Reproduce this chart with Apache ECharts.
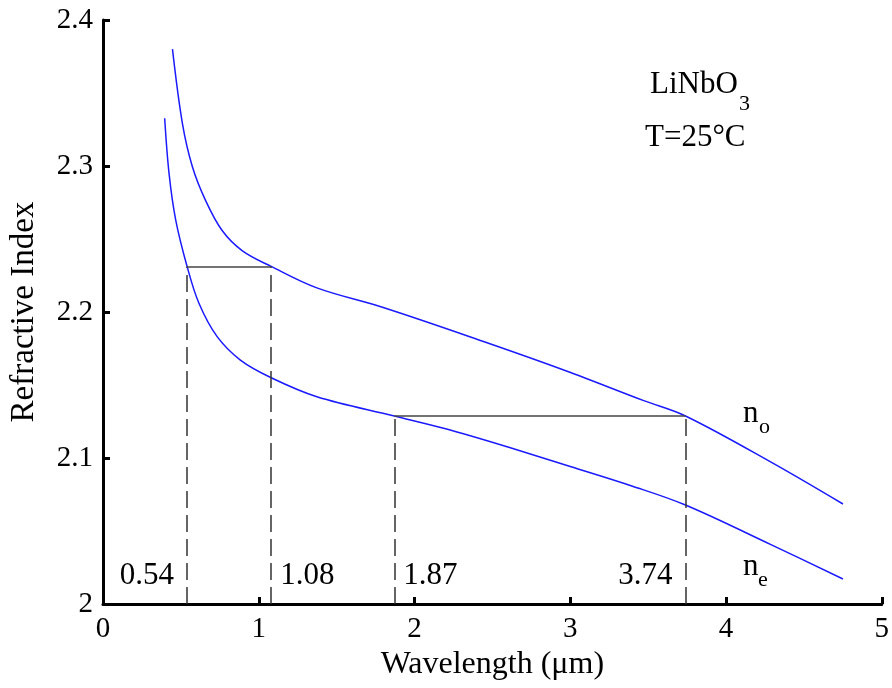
<!DOCTYPE html>
<html>
<head>
<meta charset="utf-8">
<script src="https://cdn.jsdelivr.net/npm/echarts@6/dist/echarts.min.js"></script>
<style>
  html, body { margin: 0; padding: 0; background: #fff; }
  #main { width: 892px; height: 688px; }
</style>
</head>
<body>
<div id="main"></div>
<script>
// 读图得到的数据 (wavelength um, index)
const noWave = [0.446, 0.51, 0.574, 0.659, 0.765, 0.893, 1.08, 1.373, 1.799, 2.438, 2.971, 3.472, 3.74, 4.292, 4.751]
const noIndex = [2.380, 2.329, 2.2995, 2.2763, 2.2558, 2.2421, 2.2312, 2.2165, 2.2031, 2.1800, 2.1598, 2.1393, 2.1288, 2.0970, 2.0685]
const neWave = [0.396, 0.424, 0.467, 0.54, 0.616, 0.733, 0.882, 1.08, 1.373, 1.87, 2.2, 2.6, 3.0, 3.4, 3.74, 4.292, 4.751]
const neIndex = [2.3327, 2.295, 2.263, 2.2312, 2.206, 2.1831, 2.1671, 2.155, 2.142, 2.1288, 2.1200, 2.1075, 2.0942, 2.0807, 2.0678, 2.0405, 2.0171]
// 相位匹配标记
const markWave = [0.54, 1.08, 1.87, 3.74]
const markIndex = [2.2312, 2.2312, 2.1288, 2.1288]
const xTicks = [0, 1, 2, 3, 4, 5]
const yTicks = [2, 2.1, 2.2, 2.3, 2.4]

const serif = '"Liberation Serif", "DejaVu Serif", serif'
const chart = echarts.init(document.getElementById('main'))

function pairs(xs, ys) {
  return xs.map((x, i) => [x, ys[i]])
}

// 竖直虚线 + 水平实线
const dashLines = markWave.map((x, i) => [{ coord: [x, yTicks[0]] }, { coord: [x, markIndex[i]] }])
const solidLines = [
  [{ coord: [markWave[0], markIndex[0]] }, { coord: [markWave[1], markIndex[1]] }],
  [{ coord: [markWave[2], markIndex[2]] }, { coord: [markWave[3], markIndex[3]] }]
]

// 数值标签 0.54/3.74 在左, 1.08/1.87 在右
const labelSide = ['left', 'right', 'right', 'left']
const labelData = markWave.map((x, i) => ({
  value: [x, 2.019],
  label: {
    show: true,
    formatter: x.toFixed(2),
    position: labelSide[i],
    distance: labelSide[i] === 'left' ? 13 : 9
  }
}))

function txt(left, top, text, size) {
  return { type: 'text', left: left, top: top, style: { text: text, font: size + 'px ' + serif, fill: '#000' } }
}

const option = {
  animation: false,
  backgroundColor: '#fff',
  grid: { left: 102, right: 8, top: 20, bottom: 84 },
  xAxis: {
    type: 'value',
    min: xTicks[0],
    max: xTicks[xTicks.length - 1],
    interval: 1,
    name: 'Wavelength (\u03bcm)',
    nameLocation: 'middle',
    nameGap: 43,
    nameTextStyle: { fontFamily: serif, fontSize: 32, color: '#000' },
    axisLine: { lineStyle: { color: '#000', width: 3 } },
    axisTick: { inside: true, length: 7, lineStyle: { color: '#000', width: 3 } },
    axisLabel: { fontFamily: serif, fontSize: 29, color: '#000', margin: 11 },
    splitLine: { show: false }
  },
  yAxis: {
    type: 'value',
    min: yTicks[0],
    max: yTicks[yTicks.length - 1],
    interval: 0.1,
    name: 'Refractive Index',
    nameLocation: 'middle',
    nameGap: 62,
    nameTextStyle: { fontFamily: serif, fontSize: 33, color: '#000' },
    axisLine: { show: true, lineStyle: { color: '#000', width: 3 } },
    axisTick: { show: true, inside: true, length: 7, lineStyle: { color: '#000', width: 3 } },
    axisLabel: {
      fontFamily: serif, fontSize: 29, color: '#000', margin: 10,
      formatter: v => (v === 2 ? '2' : v.toFixed(1))
    },
    splitLine: { show: false }
  },
  series: [
    {
      name: 'no',
      type: 'line',
      data: pairs(noWave, noIndex),
      smooth: 0.35,
      showSymbol: false,
      lineStyle: { color: '#1a1aff', width: 1.5 },
      z: 3
    },
    {
      name: 'ne',
      type: 'line',
      data: pairs(neWave, neIndex),
      smooth: 0.35,
      showSymbol: false,
      lineStyle: { color: '#1a1aff', width: 1.5 },
      z: 3
    },
    {
      name: 'marks',
      type: 'scatter',
      symbolSize: 0,
      itemStyle: { opacity: 1 },
      data: labelData,
      label: { fontFamily: serif, fontSize: 31, color: '#000' },
      markLine: {
        silent: true,
        symbol: ['none', 'none'],
        label: { show: false },
        lineStyle: { color: '#333', width: 1.5, type: [17, 7], opacity: 1 },
        data: dashLines
      },
      z: 2
    },
    {
      name: 'solid',
      type: 'scatter',
      symbolSize: 0,
      data: [],
      markLine: {
        silent: true,
        symbol: ['none', 'none'],
        label: { show: false },
        lineStyle: { color: '#444', width: 1.5, type: 'solid', opacity: 1 },
        data: solidLines
      },
      z: 2
    }
  ],
  graphic: [
    txt(650, 69, 'LiNbO', 31),
    txt(739, 93, '3', 22),
    txt(645, 122, 'T=25\u00b0C', 31),
    txt(743, 398, 'n', 31),
    txt(759, 416, 'o', 22),
    txt(743, 551, 'n', 31),
    txt(758, 569, 'e', 22)
  ]
}

chart.setOption(option)
</script>
</body>
</html>
